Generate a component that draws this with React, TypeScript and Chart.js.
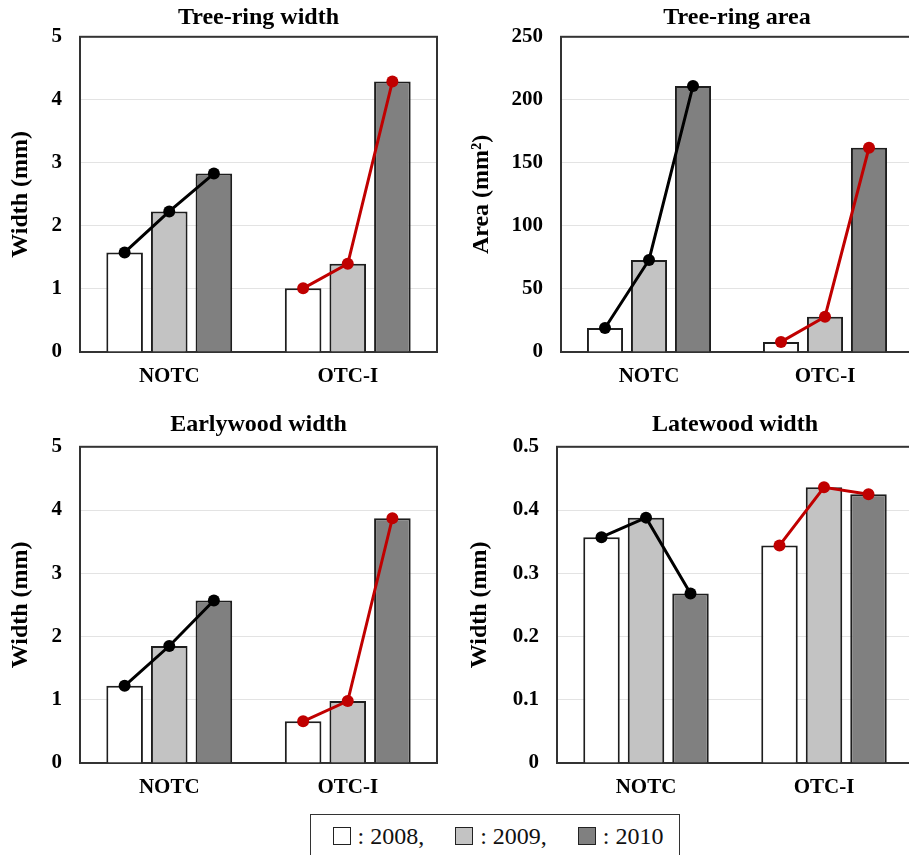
import React, { useEffect, useRef } from "react";
import { Chart, registerables } from "chart.js";

Chart.register(...registerables);

// ---- data ----
const groups = ["NOTC", "OTC-I"];
const years = ["2008", "2009", "2010"];

const ringWidthNOTC = [1.58, 2.23, 2.83];
const ringWidthOTC = [1.01, 1.4, 4.29];
const ringAreaNOTC = [19, 73, 211];
const ringAreaOTC = [8, 28, 162];
const earlyWidthNOTC = [1.22, 1.85, 2.57];
const earlyWidthOTC = [0.66, 0.98, 3.87];
const lateWidthNOTC = [0.357, 0.388, 0.268];
const lateWidthOTC = [0.344, 0.436, 0.425];

const widthTicks = [0, 1, 2, 3, 4, 5];
const areaTicks = [0, 50, 100, 150, 200, 250];
const lateTicks = [0, 0.1, 0.2, 0.3, 0.4, 0.5];

// ---- styles ----
const yearColors = ["#ffffff", "#c3c3c3", "#808080"];
const lineColors = ["#000000", "#c00000"];
const SERIF = '"Liberation Serif", "Times New Roman", serif';

function buildSlots() {
  const labels: string[] = [""];
  const tickText: string[] = [""];
  groups.forEach((g) => {
    years.forEach((y, yi) => {
      labels.push(g + " " + y);
      tickText.push(yi === 1 ? g : "");
    });
    labels.push("");
    tickText.push("");
  });
  return { labels, tickText };
}

const borderPlugin = {
  id: "plotBorder",
  beforeDatasetsDraw(chart: any) {
    const { ctx, chartArea } = chart;
    ctx.save();
    ctx.strokeStyle = "#333333";
    ctx.lineWidth = 2;
    ctx.strokeRect(chartArea.left, chartArea.top, chartArea.right - chartArea.left, chartArea.bottom - chartArea.top);
    ctx.restore();
  },
};

type PanelProps = {
  left: number;
  top: number;
  width: number;
  height: number;
  title: string;
  titlePadTop: number;
  titlePadBottom: number;
  yTitle: string;
  yTitlePad: number;
  yWidth: number;
  padRight: number;
  notc: number[];
  otc: number[];
  ticks: number[];
};

function Panel(p: PanelProps) {
  const ref = useRef<HTMLCanvasElement | null>(null);
  useEffect(() => {
    if (!ref.current) return;
    const { labels, tickText } = buildSlots();
    const n = labels.length;
    const barData: (number | null)[] = new Array(n).fill(null);
    const barColors: string[] = new Array(n).fill("rgba(0,0,0,0)");
    const series = [p.notc, p.otc];
    const lineData: (number | null)[][] = series.map(() => new Array(n).fill(null));
    series.forEach((vals, gi) => {
      vals.forEach((v, yi) => {
        const idx = 1 + gi * (years.length + 1) + yi;
        barData[idx] = v;
        barColors[idx] = yearColors[yi];
        lineData[gi][idx] = v;
      });
    });
    const ticks = p.ticks;
    const chart = new Chart(ref.current, {
      type: "bar",
      data: {
        labels,
        datasets: [
          ...lineData.map((d, gi) => ({
            type: "line" as const,
            label: groups[gi],
            data: d,
            borderColor: lineColors[gi],
            backgroundColor: lineColors[gi],
            borderWidth: 3,
            pointRadius: 6,
            pointBorderWidth: 0,
            pointBackgroundColor: lineColors[gi],
            tension: 0,
            spanGaps: false,
            order: 0,
          })),
          {
            type: "bar" as const,
            label: "bars",
            data: barData,
            backgroundColor: barColors,
            borderColor: "#1e1e1e",
            borderWidth: 2,
            categoryPercentage: 1,
            barPercentage: 0.82,
            order: 1,
          },
        ],
      },
      options: {
        responsive: false,
        animation: false,
        devicePixelRatio: 1,
        layout: { padding: { left: 0, right: p.padRight, top: 0, bottom: 0 } },
        plugins: {
          legend: { display: false },
          tooltip: { enabled: false },
          title: {
            display: true,
            text: p.title,
            fullSize: false,
            color: "#000",
            font: { family: SERIF, size: 24, weight: "bold" },
            padding: { top: p.titlePadTop, bottom: p.titlePadBottom },
          },
        },
        scales: {
          x: {
            type: "category",
            offset: false,
            grid: { display: false, drawTicks: false },
            border: { display: false },
            ticks: {
              autoSkip: false,
              maxRotation: 0,
              minRotation: 0,
              padding: 12,
              color: "#000",
              font: { family: SERIF, size: 21, weight: "bold" },
              callback: (_v: any, i: number) => tickText[i],
            },
            afterFit: (s: any) => {
              s.height = 48;
            },
          },
          y: {
            min: ticks[0],
            max: ticks[ticks.length - 1],
            grid: { color: "#e3e3e3", lineWidth: 1, drawTicks: false },
            border: { display: false },
            ticks: {
              padding: 18,
              color: "#000",
              font: { family: SERIF, size: 21, weight: "bold" },
              callback: (v: any) => String(v),
            },
            afterBuildTicks: (s: any) => {
              s.ticks = ticks.map((v) => ({ value: v }));
            },
            title: {
              display: true,
              text: p.yTitle,
              color: "#000",
              font: { family: SERIF, size: 24, weight: "bold" },
              padding: { top: p.yTitlePad, bottom: 0 },
            },
            afterFit: (s: any) => {
              s.width = p.yWidth;
            },
          },
        },
      } as any,
      plugins: [borderPlugin],
    });
    return () => chart.destroy();
  }, []);
  return (
    <canvas
      ref={ref}
      width={p.width}
      height={p.height}
      style={{ position: "absolute", left: p.left, top: p.top, width: p.width, height: p.height }}
    />
  );
}

function LegendSwatch({ color }: { color: string }) {
  return (
    <span
      style={{
        display: "inline-block",
        width: 18,
        height: 18,
        boxSizing: "border-box",
        border: "1.5px solid #222",
        background: color,
      }}
    />
  );
}

export default function App() {
  return (
    <div
      style={{
        position: "fixed",
        left: 0,
        top: 0,
        width: 909,
        height: 855,
        overflow: "hidden",
        background: "#fff",
      }}
    >
      <Panel left={0} top={0} width={450} height={400} title="Tree-ring width" titlePadTop={3} titlePadBottom={5}
        yTitle="Width (mm)" yTitlePad={6} yWidth={80} padRight={13} notc={ringWidthNOTC} otc={ringWidthOTC} ticks={widthTicks} />
      <Panel left={455} top={0} width={470} height={400} title="Tree-ring area" titlePadTop={3} titlePadBottom={5}
        yTitle="Area (mm²)" yTitlePad={12.6} yWidth={106} padRight={8} notc={ringAreaNOTC} otc={ringAreaOTC} ticks={areaTicks} />
      <Panel left={0} top={400} width={450} height={411} title="Earlywood width" titlePadTop={10} titlePadBottom={8}
        yTitle="Width (mm)" yTitlePad={6.5} yWidth={80} padRight={13} notc={earlyWidthNOTC} otc={earlyWidthOTC} ticks={widthTicks} />
      <Panel left={455} top={400} width={470} height={411} title="Latewood width" titlePadTop={10} titlePadBottom={8}
        yTitle="Width (mm)" yTitlePad={10.6} yWidth={102} padRight={12} notc={lateWidthNOTC} otc={lateWidthOTC} ticks={lateTicks} />
      <div
        style={{
          position: "absolute",
          left: 310,
          top: 814,
          width: 370,
          height: 60,
          boxSizing: "border-box",
          border: "1.5px solid #333",
          background: "#fff",
        }}
      >
        <div
          style={{
            display: "flex",
            alignItems: "center",
            height: 42,
            paddingLeft: 21.5,
            fontFamily: SERIF,
            fontSize: 24,
            color: "#111",
            whiteSpace: "pre",
          }}
        >
          {years.map((y, i) => (
            <React.Fragment key={y}>
              <LegendSwatch color={yearColors[i]} />
              <span style={{ marginLeft: 7, marginRight: i < years.length - 1 ? 31 : 0 }}>
                {": " + y + (i < years.length - 1 ? "," : "")}
              </span>
            </React.Fragment>
          ))}
        </div>
      </div>
    </div>
  );
}
